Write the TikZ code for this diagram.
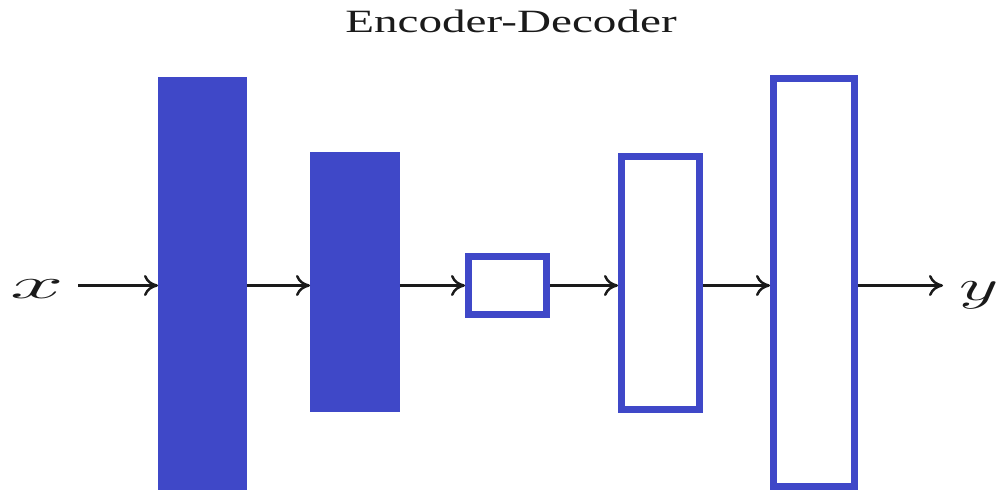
\documentclass[tikz,border=0pt]{standalone}
\usepackage{fontspec}
\usepackage{graphicx}
\usetikzlibrary{arrows.meta}
\newfontfamily\ttlfont[FakeStretch=1.45]{Liberation Serif}
\definecolor{ink}{HTML}{1A1A1A}
\definecolor{layer}{HTML}{3F48C8}

\begin{document}
\begin{tikzpicture}[x=.02cm,y=-.02cm,
  full/.style={fill=layer,inner sep=0,outer sep=0},
  hollow/.style={draw=layer,line width=.14cm,fill=white,inner sep=0},
  io/.style={inner ysep=1pt,text=ink,font=\fontsize{42}{46}\selectfont},
  flow/.style={-{To[length=8pt,width=12pt]},line width=1.4pt,ink}]
\useasboundingbox (0,0) rectangle (1006,493);
\node[anchor=base,text=ink,font=\fontsize{18.5}{22}\ttlfont] (ttl) at (511,33) {Encoder-Decoder};
% encoder
\node[full,minimum width=1.78cm,minimum height=8.26cm] (b1) at (202.5,283.5) {};
\node[full,minimum width=1.8cm,minimum height=5.2cm] (b2) at (355,282) {};
% code
\node[hollow,minimum width=1.56cm,minimum height=1.16cm] (b3) at (507.5,285.5) {};
% decoder
\node[hollow,minimum width=1.56cm,minimum height=5.06cm] (b4) at (660.5,283) {};
\node[hollow,minimum width=1.62cm,minimum height=8.16cm] (b5) at (814,282.5) {};
\node[io,inner xsep=8pt,anchor=base east] (xin) at (78,298) {\scalebox{2.2}[1]{$x$}};
\node[io,inner xsep=9pt,anchor=base west] (yout) at (943,300) {\scalebox{1.75}[1]{$y$}};
\draw[flow] (xin.east |- b3.east) -- (b3.east -| b1.west);
\draw[flow] (b1.east |- b3.east) -- (b3.east -| b2.west);
\draw[flow] (b2.east |- b3.west) -- (b3.west);
\draw[flow] (b3.east) -- (b3.east -| b4.west);
\draw[flow] (b4.east |- b3.east) -- (b3.east -| b5.west);
\draw[flow] (b5.east |- b3.east) -- (b3.east -| yout.west);
\end{tikzpicture}
\end{document}
